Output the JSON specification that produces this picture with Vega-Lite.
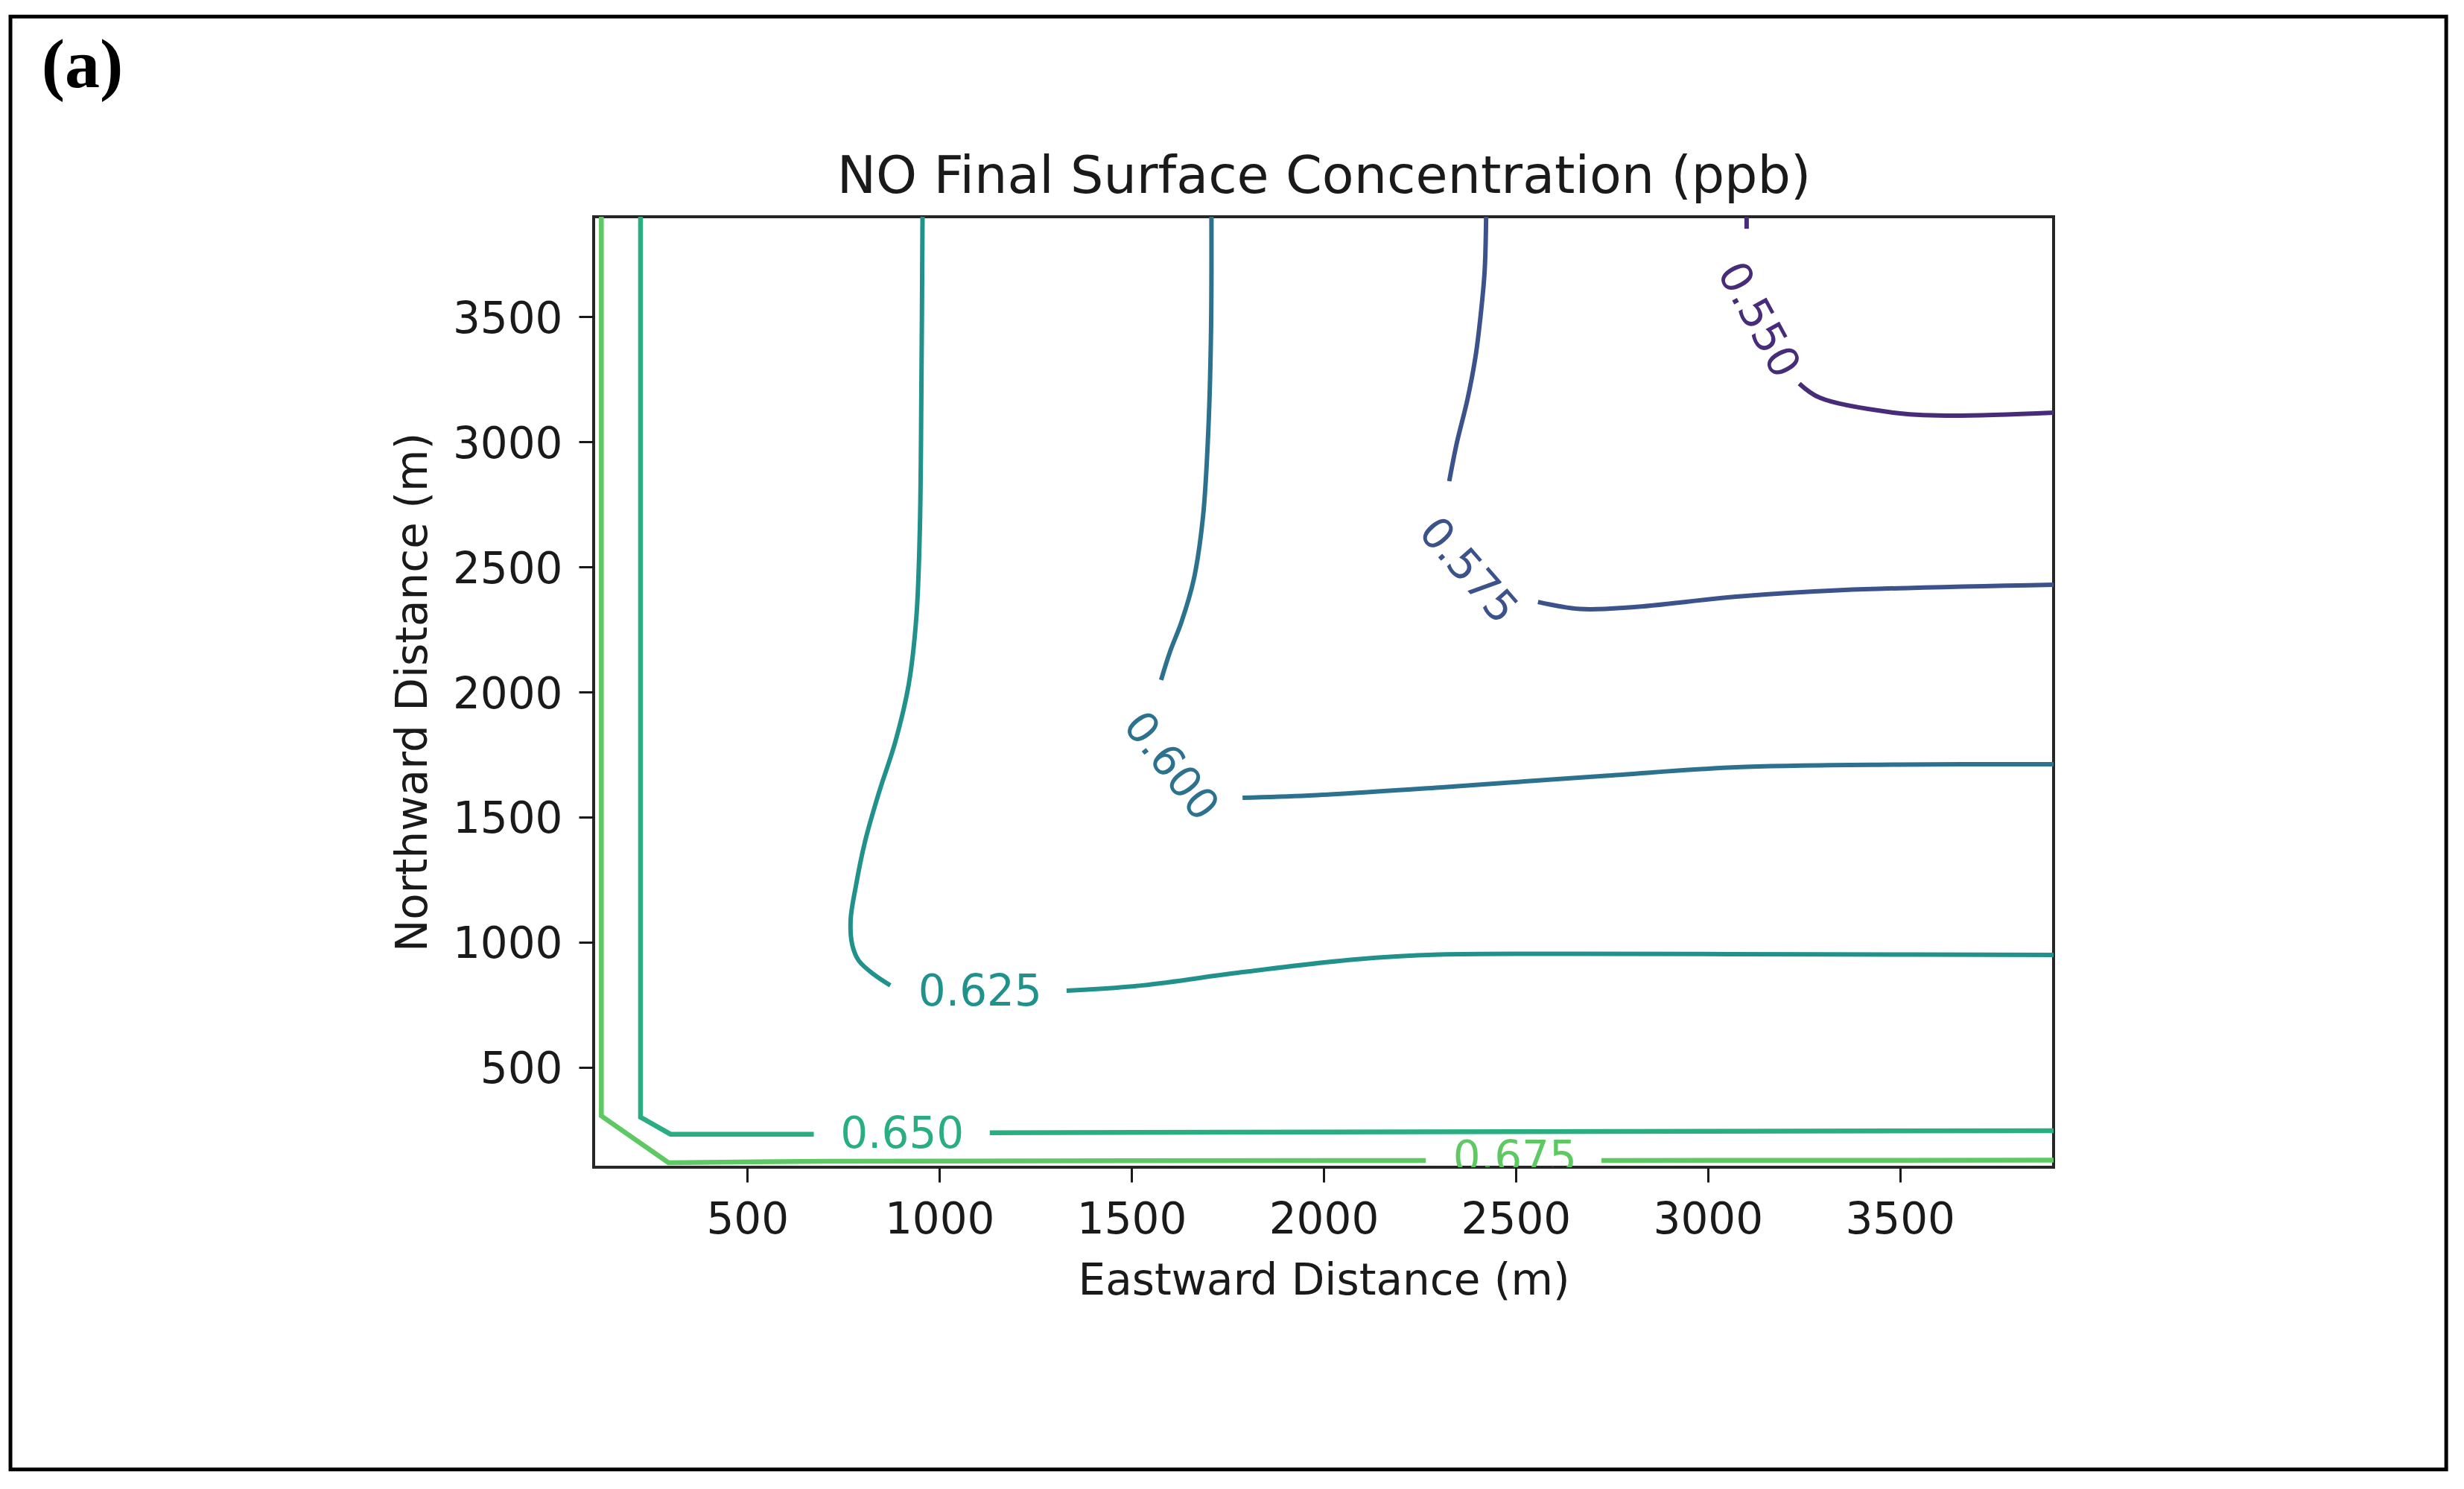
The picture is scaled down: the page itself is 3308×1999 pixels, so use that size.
{
  "$schema": "https://vega.github.io/schema/vega-lite/v6.json",
  "width": 1960,
  "height": 1276,
  "autosize": {"type": "none"},
  "padding": {"left": 797, "top": 291, "right": 551, "bottom": 432},
  "background": "white",
  "config": {
    "view": {"stroke": "#262626", "strokeWidth": 4},
    "font": "DejaVu Sans"
  },
  "resolve": {"axis": {"x": "independent", "y": "independent"}},
  "datasets": {
    "contours": [
      {"level": "0.675", "seg": "675a", "i": 0, "x": 120, "y": 3900},
      {"level": "0.675", "seg": "675a", "i": 1, "x": 120, "y": 305},
      {"level": "0.675", "seg": "675a", "i": 2, "x": 295, "y": 118},
      {"level": "0.675", "seg": "675a", "i": 3, "x": 700, "y": 124},
      {"level": "0.675", "seg": "675a", "i": 4, "x": 1500, "y": 126},
      {"level": "0.675", "seg": "675a", "i": 5, "x": 2266, "y": 127},
      {"level": "0.675", "seg": "675b", "i": 0, "x": 2723, "y": 127},
      {"level": "0.675", "seg": "675b", "i": 1, "x": 3900, "y": 128},
      {"level": "0.650", "seg": "650a", "i": 0, "x": 222, "y": 3900},
      {"level": "0.650", "seg": "650a", "i": 1, "x": 222, "y": 300},
      {"level": "0.650", "seg": "650a", "i": 2, "x": 300, "y": 232},
      {"level": "0.650", "seg": "650a", "i": 3, "x": 673, "y": 232},
      {"level": "0.650", "seg": "650b", "i": 0, "x": 1131, "y": 238},
      {"level": "0.650", "seg": "650b", "i": 1, "x": 2000, "y": 241},
      {"level": "0.650", "seg": "650b", "i": 2, "x": 3000, "y": 244},
      {"level": "0.650", "seg": "650b", "i": 3, "x": 3900, "y": 246},
      {"level": "0.625", "seg": "625a", "i": 0, "x": 956, "y": 3900},
      {"level": "0.625", "seg": "625a", "i": 1, "x": 953, "y": 3200},
      {"level": "0.625", "seg": "625a", "i": 2, "x": 949, "y": 2650},
      {"level": "0.625", "seg": "625a", "i": 3, "x": 940, "y": 2300},
      {"level": "0.625", "seg": "625a", "i": 4, "x": 920, "y": 2030},
      {"level": "0.625", "seg": "625a", "i": 5, "x": 885, "y": 1800},
      {"level": "0.625", "seg": "625a", "i": 6, "x": 843, "y": 1600},
      {"level": "0.625", "seg": "625a", "i": 7, "x": 806, "y": 1400},
      {"level": "0.625", "seg": "625a", "i": 8, "x": 782, "y": 1220},
      {"level": "0.625", "seg": "625a", "i": 9, "x": 769, "y": 1091},
      {"level": "0.625", "seg": "625a", "i": 10, "x": 773, "y": 990},
      {"level": "0.625", "seg": "625a", "i": 11, "x": 790, "y": 926},
      {"level": "0.625", "seg": "625a", "i": 12, "x": 830, "y": 870},
      {"level": "0.625", "seg": "625a", "i": 13, "x": 872, "y": 827},
      {"level": "0.625", "seg": "625b", "i": 0, "x": 1331, "y": 806},
      {"level": "0.625", "seg": "625b", "i": 1, "x": 1529, "y": 827},
      {"level": "0.625", "seg": "625b", "i": 2, "x": 1789, "y": 880},
      {"level": "0.625", "seg": "625b", "i": 3, "x": 2083, "y": 931},
      {"level": "0.625", "seg": "625b", "i": 4, "x": 2300, "y": 950},
      {"level": "0.625", "seg": "625b", "i": 5, "x": 2653, "y": 953},
      {"level": "0.625", "seg": "625b", "i": 6, "x": 3300, "y": 951},
      {"level": "0.625", "seg": "625b", "i": 7, "x": 3900, "y": 949},
      {"level": "0.600", "seg": "600a", "i": 0, "x": 1708, "y": 3900},
      {"level": "0.600", "seg": "600a", "i": 1, "x": 1707, "y": 3450},
      {"level": "0.600", "seg": "600a", "i": 2, "x": 1700, "y": 3050},
      {"level": "0.600", "seg": "600a", "i": 3, "x": 1686, "y": 2700},
      {"level": "0.600", "seg": "600a", "i": 4, "x": 1662, "y": 2450},
      {"level": "0.600", "seg": "600a", "i": 5, "x": 1630, "y": 2280},
      {"level": "0.600", "seg": "600a", "i": 6, "x": 1600, "y": 2160},
      {"level": "0.600", "seg": "600a", "i": 7, "x": 1577, "y": 2048},
      {"level": "0.600", "seg": "600b", "i": 0, "x": 1789, "y": 1577},
      {"level": "0.600", "seg": "600b", "i": 1, "x": 1961, "y": 1586},
      {"level": "0.600", "seg": "600b", "i": 2, "x": 2308, "y": 1619},
      {"level": "0.600", "seg": "600b", "i": 3, "x": 2741, "y": 1666},
      {"level": "0.600", "seg": "600b", "i": 4, "x": 3086, "y": 1700},
      {"level": "0.600", "seg": "600b", "i": 5, "x": 3500, "y": 1710},
      {"level": "0.600", "seg": "600b", "i": 6, "x": 3900, "y": 1711},
      {"level": "0.575", "seg": "575a", "i": 0, "x": 2423, "y": 3900},
      {"level": "0.575", "seg": "575a", "i": 1, "x": 2419, "y": 3680},
      {"level": "0.575", "seg": "575a", "i": 2, "x": 2409, "y": 3510},
      {"level": "0.575", "seg": "575a", "i": 3, "x": 2395, "y": 3337},
      {"level": "0.575", "seg": "575a", "i": 4, "x": 2374, "y": 3167},
      {"level": "0.575", "seg": "575a", "i": 5, "x": 2347, "y": 2998},
      {"level": "0.575", "seg": "575a", "i": 6, "x": 2327, "y": 2843},
      {"level": "0.575", "seg": "575b", "i": 0, "x": 2558, "y": 2360},
      {"level": "0.575", "seg": "575b", "i": 1, "x": 2667, "y": 2332},
      {"level": "0.575", "seg": "575b", "i": 2, "x": 2803, "y": 2339},
      {"level": "0.575", "seg": "575b", "i": 3, "x": 3074, "y": 2381},
      {"level": "0.575", "seg": "575b", "i": 4, "x": 3347, "y": 2407},
      {"level": "0.575", "seg": "575b", "i": 5, "x": 3900, "y": 2429},
      {"level": "0.550", "seg": "550a", "i": 0, "x": 3101, "y": 3900},
      {"level": "0.550", "seg": "550a", "i": 1, "x": 3101, "y": 3852},
      {"level": "0.550", "seg": "550b", "i": 0, "x": 3238, "y": 3233},
      {"level": "0.550", "seg": "550b", "i": 1, "x": 3292, "y": 3176},
      {"level": "0.550", "seg": "550b", "i": 2, "x": 3483, "y": 3117},
      {"level": "0.550", "seg": "550b", "i": 3, "x": 3619, "y": 3105},
      {"level": "0.550", "seg": "550b", "i": 4, "x": 3900, "y": 3117}
    ],
    "labels": [
      {"level": "0.550", "x": 3129, "y": 3485},
      {"level": "0.575", "x": 2374, "y": 2482},
      {"level": "0.600", "x": 1600, "y": 1700},
      {"level": "0.625", "x": 1106, "y": 796},
      {"level": "0.650", "x": 903, "y": 228},
      {"level": "0.675", "x": 2498, "y": 133}
    ]
  },
  "layer": [
    {
      "data": {"name": "contours"},
      "transform": [{"filter": {"field": "level", "oneOf": ["0.650", "0.675"]}}],
      "mark": {"type": "line", "strokeWidth": 6.5, "strokeCap": "butt", "strokeJoin": "miter", "interpolate": "linear", "clip": true},
      "encoding": {
        "x": {
          "field": "x", "type": "quantitative",
          "scale": {"domain": [100, 3900], "nice": false, "zero": false},
          "axis": {
            "orient": "bottom", "title": "Eastward Distance (m)",
            "values": [500, 1000, 1500, 2000, 2500, 3000, 3500], "format": "d",
            "domain": false, "grid": false,
            "tickSize": 20, "tickWidth": 3, "tickColor": "#1a1a1a",
            "labelFont": "DejaVu Sans", "labelFontSize": 58, "labelColor": "#1a1a1a", "labelPadding": 22,
            "labelFlush": false, "labelOverlap": false,
            "titleFont": "DejaVu Sans", "titleFontSize": 58, "titleFontWeight": "normal", "titleColor": "#1a1a1a",
            "titlePadding": 70, "titleBaseline": "alphabetic"
          }
        },
        "y": {
          "field": "y", "type": "quantitative",
          "scale": {"domain": [100, 3900], "nice": false, "zero": false},
          "axis": {
            "orient": "left", "title": "Northward Distance (m)",
            "values": [500, 1000, 1500, 2000, 2500, 3000, 3500], "format": "d",
            "domain": false, "grid": false,
            "tickSize": 20, "tickWidth": 3, "tickColor": "#1a1a1a",
            "labelFont": "DejaVu Sans", "labelFontSize": 58, "labelColor": "#1a1a1a", "labelPadding": 22,
            "labelOffset": 4,
            "labelFlush": false, "labelOverlap": false,
            "titleFont": "DejaVu Sans", "titleFontSize": 58, "titleFontWeight": "normal", "titleColor": "#1a1a1a",
            "titlePadding": 35, "titleBaseline": "alphabetic"
          }
        },
        "color": {
          "field": "level", "type": "nominal",
          "scale": {"domain": ["0.550", "0.575", "0.600", "0.625", "0.650", "0.675"], "range": ["#472c7a", "#3b528b", "#2c728e", "#21918c", "#28ae80", "#5ec962"]},
          "legend": null
        },
        "detail": {"field": "seg", "type": "nominal"},
        "order": {"field": "i", "type": "quantitative"}
      }
    },
    {
      "data": {"name": "contours"},
      "transform": [{"filter": {"field": "level", "oneOf": ["0.550", "0.575", "0.600", "0.625"]}}],
      "mark": {"type": "line", "strokeWidth": 6, "strokeCap": "butt", "interpolate": "catmull-rom", "clip": true},
      "encoding": {
        "x": {"field": "x", "type": "quantitative", "axis": null},
        "y": {"field": "y", "type": "quantitative", "axis": null},
        "color": {"field": "level", "type": "nominal", "legend": null},
        "detail": {"field": "seg", "type": "nominal"},
        "order": {"field": "i", "type": "quantitative"}
      }
    },
    {
      "data": {"name": "labels"},
      "transform": [{"filter": {"field": "level", "oneOf": ["0.625", "0.650", "0.675"]}}],
      "mark": {"type": "text", "font": "DejaVu Sans", "fontSize": 58, "align": "center", "baseline": "middle", "clip": true},
      "encoding": {
        "x": {
          "field": "x", "type": "quantitative",
          "axis": {
            "orient": "top", "title": "NO Final Surface Concentration (ppb)",
            "domain": false, "ticks": false, "labels": false, "grid": false,
            "titleFont": "DejaVu Sans", "titleFontSize": 70, "titleFontWeight": "normal", "titleColor": "#1a1a1a",
            "titlePadding": 33, "titleBaseline": "alphabetic"
          }
        },
        "y": {"field": "y", "type": "quantitative", "axis": null},
        "text": {"field": "level", "type": "nominal"},
        "color": {"field": "level", "type": "nominal", "legend": null}
      }
    },
    {
      "data": {"name": "labels"},
      "transform": [{"filter": {"field": "level", "equal": "0.600"}}],
      "mark": {"type": "text", "font": "DejaVu Sans", "fontSize": 58, "align": "center", "baseline": "middle", "angle": 52},
      "encoding": {
        "x": {"field": "x", "type": "quantitative", "axis": null},
        "y": {"field": "y", "type": "quantitative", "axis": null},
        "text": {"field": "level", "type": "nominal"},
        "color": {"field": "level", "type": "nominal", "legend": null}
      }
    },
    {
      "data": {"name": "labels"},
      "transform": [{"filter": {"field": "level", "equal": "0.575"}}],
      "mark": {"type": "text", "font": "DejaVu Sans", "fontSize": 58, "align": "center", "baseline": "middle", "angle": 49},
      "encoding": {
        "x": {"field": "x", "type": "quantitative", "axis": null},
        "y": {"field": "y", "type": "quantitative", "axis": null},
        "text": {"field": "level", "type": "nominal"},
        "color": {"field": "level", "type": "nominal", "legend": null}
      }
    },
    {
      "data": {"name": "labels"},
      "transform": [{"filter": {"field": "level", "equal": "0.550"}}],
      "mark": {"type": "text", "font": "DejaVu Sans", "fontSize": 58, "align": "center", "baseline": "middle", "angle": 61.5},
      "encoding": {
        "x": {"field": "x", "type": "quantitative", "axis": null},
        "y": {"field": "y", "type": "quantitative", "axis": null},
        "text": {"field": "level", "type": "nominal"},
        "color": {"field": "level", "type": "nominal", "legend": null}
      }
    },
    {
      "data": {"values": [{}]},
      "mark": {"type": "rect", "fillOpacity": 0, "stroke": "#000000", "strokeWidth": 5, "clip": false},
      "encoding": {
        "x": {"datum": -1418, "type": "quantitative", "axis": null},
        "x2": {"datum": 4922},
        "y": {"datum": 4700, "type": "quantitative", "axis": null},
        "y2": {"datum": -1108}
      }
    },
    {
      "data": {"values": [{}]},
      "mark": {"type": "text", "text": "(a)", "font": "Liberation Serif", "fontWeight": "bold", "fontSize": 94, "align": "left", "baseline": "alphabetic", "color": "#000000", "clip": false},
      "encoding": {
        "x": {"datum": -1337, "type": "quantitative", "axis": null},
        "y": {"datum": 4418, "type": "quantitative", "axis": null}
      }
    }
  ]
}
